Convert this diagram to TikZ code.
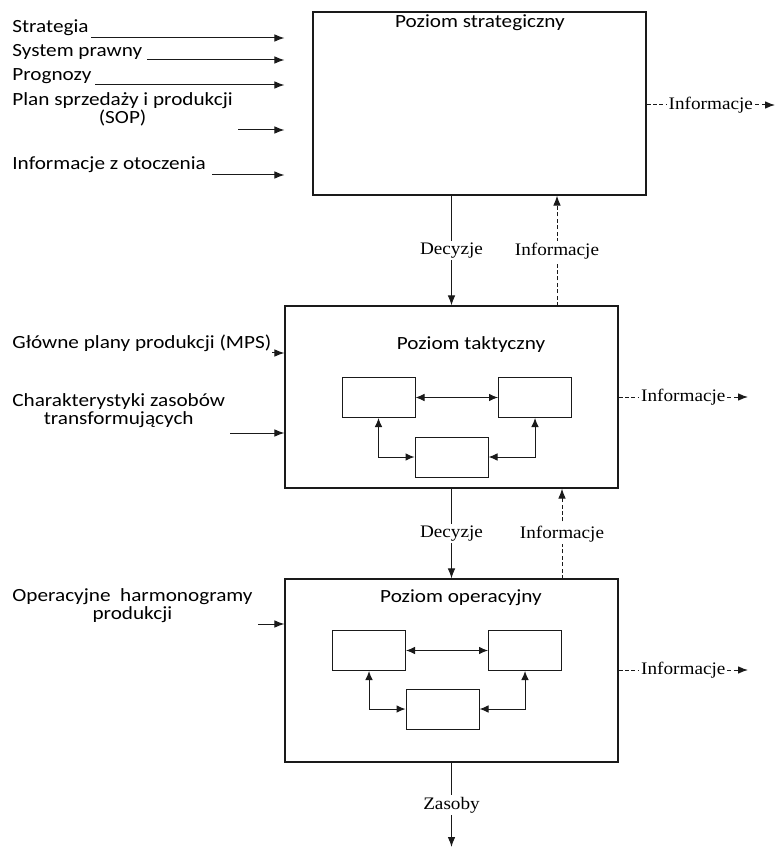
\documentclass[tikz,border=0pt]{standalone}
\usepackage{fontspec}
\setmainfont{Liberation Serif}[FakeStretch=1.09]
\setsansfont{Carlito}[FakeStretch=1.14]
\usepackage{tikz}
\usetikzlibrary{arrows.meta,positioning,calc}
\definecolor{ink}{HTML}{1A1A1A}
\tikzset{
  level/.style={
    draw=ink,fill=white,line width=.6pt,inner sep=0pt,
    minimum width=166.5pt,minimum height=91.5pt
  },
  inbox/.style={
    draw=ink,line width=.5pt,inner sep=0pt,
    minimum width=36.5pt,minimum height=20pt
  },
  title/.style={font=\sffamily\fontsize{9.3}{9}\selectfont,inner sep=0pt},
  input/.style={
    font=\sffamily\fontsize{9.3}{9}\selectfont,inner sep=0pt,
    anchor=west,align=center
  },
  lab/.style={font=\fontsize{8.8}{10}\selectfont,fill=white,inner sep=1pt},
  arrow/.style={-{Latex[length=5pt,width=3.8pt]},draw=ink,line width=.5pt},
  dbl/.style={{Latex[length=4.5pt,width=3.8pt]}-{Latex[length=4.5pt,width=3.8pt]},
    draw=ink,line width=.5pt},
  info/.style={-{Latex[length=5pt,width=3.8pt]},draw=ink,line width=.5pt,
    dash pattern=on 2pt off 1.2pt}
}
\begin{document}
\begin{tikzpicture}[x=0.5pt,y=-0.5pt]
\useasboundingbox (0,0) rectangle (777,849);

% the three levels
\node[level] (str) at (479.5,103.5) {};
\node[level,minimum height=91pt] (tak) at (451.5,397) {};
\node[level] (ope) at (451.5,670.5) {};

\node[title] (strT) at (480,23) {Poziom strategiczny};
\node[title] (takT) at (471,345) {Poziom taktyczny};
\node[title] (opeT) at (461,598) {Poziom operacyjny};

% inner boxes
\node[inbox] (tl) at (378.5,397.5) {};
\node[inbox] (tr) at (535,397.5) {};
\node[inbox] (tb) at (451.5,457) {};
\node[inbox] (ol) at (369,650.5) {};
\node[inbox] (or) at (525,650.5) {};
\node[inbox] (ob) at (442.5,709) {};

\draw[dbl] (tl) -- (tr);
\draw[dbl] (tl.south) |- (tb.west);
\draw[dbl] (tr.south) |- (tb.east);
\draw[dbl] (ol) -- (or);
\draw[dbl] (ol.south) |- (ob.west);
\draw[dbl] (or.south) |- (ob.east);

% inputs
\node[input] (in1) at (12,28) {Strategia};
\node[input] (in2) at (12,52) {System prawny};
\node[input] (in3) at (12,76) {Prognozy};
\node[input] (in4) at (12,109) {Plan sprzedaży i produkcji\\(SOP)};
\node[input] (in5) at (12,165) {Informacje z otoczenia};
\node[input] (in6) at (12,343) {Główne plany produkcji (MPS)};
\node[input] (in7) at (12,411) {Charakterystyki zasobów\\transformujących};
\node[input] (in8) at (12,606) {Operacyjne~ harmonogramy\\produkcji};

\coordinate (a1) at (91,38);
\coordinate (a2) at (147,60);
\coordinate (a3) at (95,85);
\coordinate (a4) at (238,130);
\coordinate (a5) at (212,175);
\coordinate (a6) at (272,353);
\coordinate (a7) at (230,433);
\coordinate (a8) at (258,624);

\draw[arrow] (a1) -- (a1 -| tak.west);
\draw[arrow] (a2) -- (a2 -| tak.west);
\draw[arrow] (a3) -- (a3 -| tak.west);
\draw[arrow] (a4) -- (a4 -| tak.west);
\draw[arrow] (a5) -- (a5 -| tak.west);
\draw[arrow] (a6) -- (a6 -| tak.west);
\draw[arrow] (a7) -- (a7 -| tak.west);
\draw[arrow] (a8) -- (a8 -| ope.west);

% decisions down, information up
\draw[arrow] (str.south -| tak.north) -- node[lab]{Decyzje} (tak.north);
\draw[arrow] (tak.south) -- node[lab]{Decyzje} (ope.north);
\coordinate (u1) at (557,306);
\coordinate (u2) at (562,579);
\draw[info] (u1) -- node[lab]{Informacje} (u1 |- str.south);
\draw[info] (u2) -- node[lab]{Informacje} (u2 |- tak.south);

% information out
\coordinate (o1) at (775,105);
\coordinate (o2) at (748,397);
\coordinate (o3) at (748,670);
\draw[info] (o1 -| str.east) -- node[lab]{Informacje} (o1);
\draw[info] (o2 -| tak.east) -- node[lab]{Informacje} (o2);
\draw[info] (o3 -| ope.east) -- node[lab]{Informacje} (o3);

% resources
\coordinate (z) at (451.5,847);
\draw[arrow] (ope.south) -- node[lab]{Zasoby} (z);
\end{tikzpicture}
\end{document}
